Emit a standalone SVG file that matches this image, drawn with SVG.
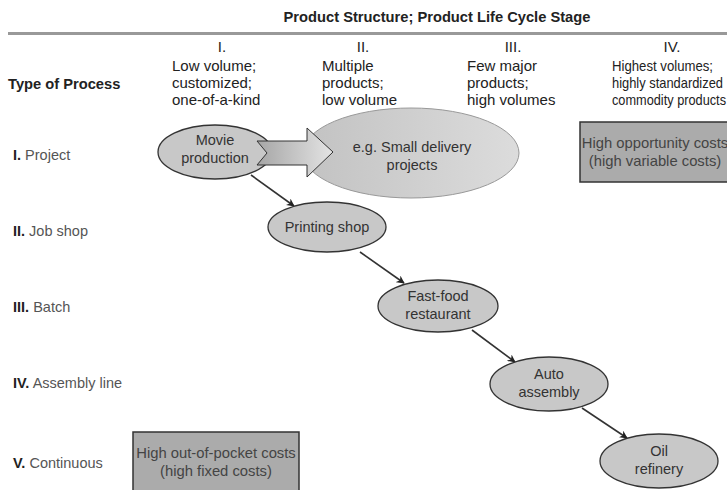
<svg xmlns="http://www.w3.org/2000/svg" width="727" height="490" viewBox="0 0 727 490">
  <style>
    .hdr { font-family: "Liberation Sans", Arial, sans-serif; font-size: 14.7px; fill: #222; }
    .col { font-family: "Liberation Sans", Arial, sans-serif; font-size: 15px; fill: #222; }
    .row { font-family: "Liberation Sans", Arial, sans-serif; font-size: 14.5px; fill: #555; }
    .num { fill: #222; font-weight: bold; }
    .node { fill: #c8c8c8; stroke: #333; stroke-width: 1.3; }
    .lbl { font-family: "Liberation Sans", Arial, sans-serif; font-size: 14.5px; fill: #333; text-anchor: middle; }
    .box { fill: #ababab; stroke: #333; stroke-width: 1.5; }
    .boxlbl { font-family: "Liberation Sans", Arial, sans-serif; font-size: 14.8px; fill: #444; text-anchor: middle; }
    .conn { stroke: #333; stroke-width: 1.6; fill: none; marker-end: url(#head); }
  </style>
  <defs>
    <marker id="head" viewBox="0 0 10 10" refX="9" refY="5" markerWidth="8" markerHeight="8" orient="auto" markerUnits="userSpaceOnUse">
      <path d="M0,0 L10,5 L0,10 L3,5 Z" fill="#222"/>
    </marker>
    <linearGradient id="bigFill" x1="0" y1="0" x2="1" y2="0">
      <stop offset="0" stop-color="#c2c2c2"/>
      <stop offset="1" stop-color="#dcdcdc"/>
    </linearGradient>
    <linearGradient id="arrowFill" x1="0" y1="0" x2="1" y2="0">
      <stop offset="0" stop-color="#a6a6a6"/>
      <stop offset="1" stop-color="#e4e4e4"/>
    </linearGradient>
  </defs>

  <!-- title and axis header -->
  <g id="header">
    <text class="hdr" x="437" y="22" font-weight="bold" text-anchor="middle">Product Structure; Product Life Cycle Stage</text>
    <rect x="8" y="32" width="719" height="3" fill="#999"/>
    <text class="hdr" x="8" y="89" font-weight="bold" fill="#444">Type of Process</text>
  </g>

  <!-- column headings -->
  <g id="columns" class="col">
    <text x="222" y="52" text-anchor="middle">I.</text>
    <text x="172" y="71">Low volume;</text>
    <text x="172" y="88">customized;</text>
    <text x="172" y="105">one-of-a-kind</text>

    <text x="363" y="52" text-anchor="middle">II.</text>
    <text x="322" y="71">Multiple</text>
    <text x="322" y="88">products;</text>
    <text x="322" y="105">low volume</text>

    <text x="513" y="52" text-anchor="middle">III.</text>
    <text x="467" y="71">Few major</text>
    <text x="467" y="88">products;</text>
    <text x="467" y="105">high volumes</text>

    <text x="672" y="52" text-anchor="middle">IV.</text>
    <text x="612" y="71" textLength="101" lengthAdjust="spacingAndGlyphs">Highest volumes;</text>
    <text x="612" y="88" textLength="111" lengthAdjust="spacingAndGlyphs">highly standardized</text>
    <text x="612" y="105" textLength="114" lengthAdjust="spacingAndGlyphs">commodity products</text>
  </g>

  <!-- row headings -->
  <g id="rows" class="row">
    <text x="13" y="160"><tspan class="num">I.</tspan> Project</text>
    <text x="13" y="236"><tspan class="num">II.</tspan> Job shop</text>
    <text x="13" y="312"><tspan class="num">III.</tspan> Batch</text>
    <text x="13" y="388"><tspan class="num">IV.</tspan> Assembly line</text>
    <text x="13" y="468"><tspan class="num">V.</tspan> Continuous</text>
  </g>

  <!-- diagonal flow -->
  <g id="connectors">
    <line class="conn" x1="251" y1="175" x2="294" y2="206"/>
    <line class="conn" x1="360" y1="252" x2="404" y2="283"/>
    <line class="conn" x1="472" y1="330" x2="515" y2="362"/>
    <line class="conn" x1="582" y1="408" x2="627" y2="438"/>
  </g>

  <g id="small-delivery">
    <ellipse cx="411" cy="153" rx="108" ry="45" fill="url(#bigFill)" stroke="#999" stroke-width="1"/>
    <text class="lbl" x="412" y="152">e.g. Small delivery</text>
    <text class="lbl" x="412" y="170">projects</text>
  </g>

  <g id="movie-production">
    <ellipse class="node" cx="215" cy="152" rx="57" ry="27"/>
    <text class="lbl" x="215" y="145">Movie</text>
    <text class="lbl" x="215" y="163">production</text>
  </g>

  <g id="broad-arrow">
    <path d="M257,141 L307,141 L307,128 L333,152 L307,177 L307,165 L257,165 L267,153 Z" fill="url(#arrowFill)" stroke="#333" stroke-width="1"/>
  </g>

  <g id="printing-shop">
    <ellipse class="node" cx="327" cy="227" rx="59" ry="25"/>
    <text class="lbl" x="327" y="232">Printing shop</text>
  </g>

  <g id="fast-food">
    <ellipse class="node" cx="438" cy="306" rx="60" ry="26"/>
    <text class="lbl" x="438" y="301">Fast-food</text>
    <text class="lbl" x="438" y="319">restaurant</text>
  </g>

  <g id="auto-assembly">
    <ellipse class="node" cx="549" cy="384" rx="59" ry="27"/>
    <text class="lbl" x="549" y="379">Auto</text>
    <text class="lbl" x="549" y="397">assembly</text>
  </g>

  <g id="oil-refinery">
    <ellipse class="node" cx="659" cy="461" rx="59" ry="27"/>
    <text class="lbl" x="659" y="456">Oil</text>
    <text class="lbl" x="659" y="474">refinery</text>
  </g>

  <g id="opportunity-costs">
    <rect class="box" x="580" y="122" width="150" height="60"/>
    <text class="boxlbl" x="655" y="148">High opportunity costs</text>
    <text class="boxlbl" x="655" y="166">(high variable costs)</text>
  </g>

  <g id="fixed-costs">
    <rect class="box" x="133" y="432" width="166" height="62"/>
    <text class="boxlbl" x="216" y="458">High out-of-pocket costs</text>
    <text class="boxlbl" x="216" y="476">(high fixed costs)</text>
  </g>
</svg>
